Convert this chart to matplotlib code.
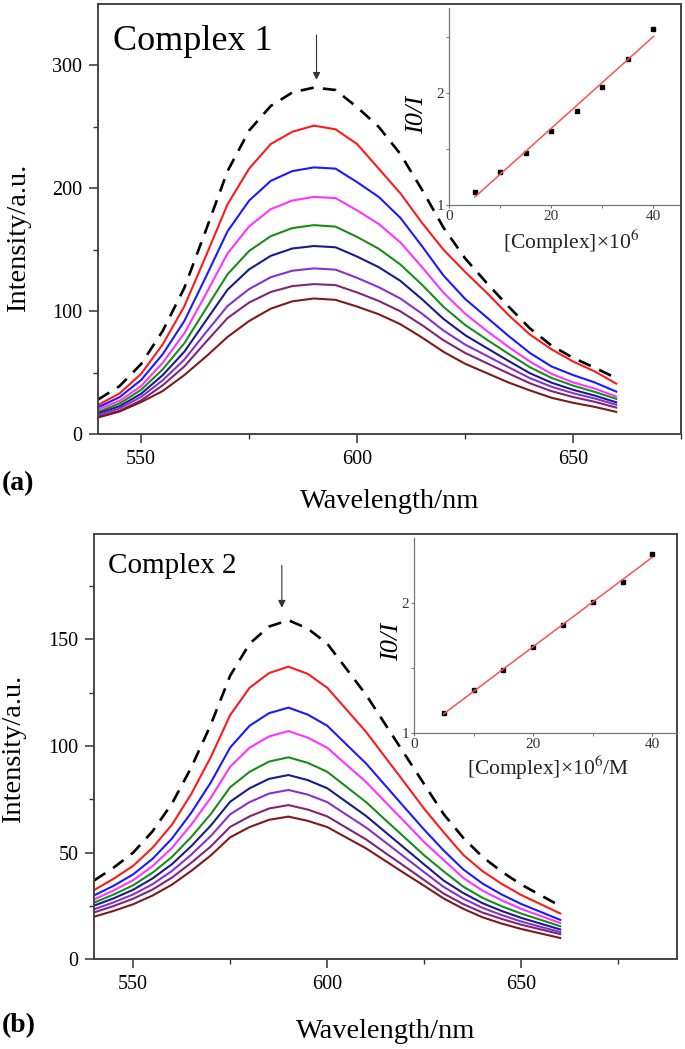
import numpy as np
import matplotlib
matplotlib.use("Agg")
import matplotlib.pyplot as plt

plt.rcParams['font.family'] = ['Liberation Serif', 'DejaVu Serif']
plt.rcParams['mathtext.fontset'] = 'stix'

# ---------------- data ----------------
wavelength = [540, 545, 550, 555, 560, 565, 570, 575, 580, 585, 590, 595, 600,
              605, 610, 615, 620, 625, 630, 635, 640, 645, 650, 655, 660]

# Panel (a): complex 1
a_free    = [28, 39, 57, 84, 119, 166, 214, 247, 267, 278, 282, 280, 266, 250, 228, 199, 168, 143, 123, 104, 86, 72, 62, 54, 45.5]
a_red     = [23.6, 33, 49, 73, 104, 145, 187, 216, 236, 246, 251, 248, 236, 216, 196, 172, 150, 132, 115, 97, 81, 69, 59, 51, 41]
a_blue    = [21.7, 30, 44, 65, 92, 128, 165, 190, 206, 214, 217, 216, 205, 193, 176, 153, 129, 110, 95, 80, 66, 55, 48, 42, 34.5]
a_magenta = [20, 27, 39, 58, 82, 114, 147, 169, 183, 190, 193, 192, 182, 171, 156, 136, 115, 98, 84, 71, 59, 49, 42, 37, 30.5]
a_green   = [18, 24.8, 36, 52.7, 73.9, 102, 130, 149, 161, 167.6, 170, 168.8, 160.4, 150.8, 138, 121.6, 103.5, 88.8, 76.9, 65.4, 54.4, 45.7, 39.4, 34.3, 28.6]
a_navy    = [16.8, 22.6, 32.8, 48, 67, 92.3, 117.5, 134, 145, 151, 153, 152, 144.4, 135.8, 124.7, 109.8, 93.7, 80.5, 70, 59.6, 49.5, 41.8, 36, 31.3, 25.8]
a_purple  = [15.4, 20.9, 30.2, 43.8, 60.6, 82.7, 104.2, 118, 127.6, 132.9, 134.8, 133.8, 127.1, 119.5, 110.3, 98, 84.2, 72.8, 63.7, 54.5, 45.5, 38.5, 33.2, 28.9, 23.8]
a_violet  = [14, 18.9, 27.4, 39.7, 55, 74.9, 94.4, 107, 115.6, 120.4, 122, 121.2, 115.2, 108.3, 99.9, 88.7, 76.3, 66, 57.7, 49.4, 41.3, 34.9, 30.1, 26.2, 21.5]
a_maroon  = [13.4, 18.3, 26, 35, 48, 63, 79, 92, 102, 108, 110.3, 109.2, 103.7, 97.5, 89.4, 78.6, 66.9, 57.2, 49.6, 42, 35.5, 29.5, 25.4, 22.1, 18]

# Panel (b): complex 2
b_free    = [37, 43, 50, 60, 73, 90, 110, 133, 148, 156, 159, 155, 148, 136, 124, 110, 96, 82, 68, 57, 48, 41, 35, 30, 25]
b_red     = [32.5, 37.8, 43.8, 52.3, 63.1, 77.6, 94.8, 114.5, 127.3, 134.2, 137.2, 133.8, 127.3, 117, 106.6, 94.6, 82.6, 70.5, 59.5, 49, 41.3, 35.3, 30.1, 25.8, 21.5]
b_blue    = [30, 34.5, 39.8, 47.1, 56.6, 68.8, 82.9, 99.3, 109.5, 115.4, 118, 114.7, 109.5, 100.6, 91.8, 81.4, 71, 60.7, 51, 42.2, 35.5, 30.3, 25.9, 22.2, 18.5]
b_magenta = [28.1, 32.3, 37.1, 43.7, 52.2, 63.2, 75.7, 90.3, 99.2, 104.5, 107, 103.9, 99.2, 91.1, 83.1, 73.7, 64.3, 54.9, 46.5, 38.2, 32.2, 27.6, 23.6, 20.3, 17]
b_green   = [26.6, 30.4, 34.7, 40.6, 48, 57.4, 68.1, 80.7, 87.9, 92.7, 94.7, 92.1, 87.9, 80.8, 73.7, 65.3, 57, 48.7, 41.2, 34.1, 28.8, 24.8, 21.4, 18.5, 15.5]
b_navy    = [25.2, 28.6, 32.6, 37.9, 44.6, 53.1, 62.7, 73.9, 80.2, 84.6, 86.4, 84, 80.2, 73.7, 67.2, 59.6, 52, 44.4, 36.9, 31.1, 26.3, 22.6, 19.4, 16.7, 14]
b_purple  = [23.5, 26.7, 30.4, 35.2, 41.4, 49.1, 57.8, 68, 73.7, 77.7, 79.4, 77.2, 73.7, 67.7, 61.8, 54.8, 47.8, 40.8, 33.9, 28.5, 24.1, 20.7, 17.7, 15.2, 12.8]
b_violet  = [22, 25, 28.4, 32.7, 38.3, 45.3, 52.9, 62.1, 67, 70.7, 72.3, 70.2, 67, 61.6, 56.2, 49.8, 43.5, 37.1, 30.8, 25.9, 21.9, 18.9, 16.2, 14, 11.8]
b_maroon  = [20, 22.7, 25.8, 29.9, 35, 41.5, 48.7, 57.2, 62, 65.4, 66.9, 64.9, 62, 57, 52, 46.1, 40.2, 34.4, 28.5, 23.7, 19.7, 16.7, 14.2, 12.1, 10]

# Insets: Stern-Volmer plots
conc = [5, 10, 15, 20, 25, 30, 35, 40]
ratio_a = [1.113, 1.297, 1.46, 1.659, 1.84, 2.048, 2.303, 2.567]
ratio_b = [1.154, 1.333, 1.485, 1.662, 1.833, 2.005, 2.164, 2.374]

colors = ['#ff1a1a', '#1a1aff', '#ff33ff', '#1a8c1a', '#1a1a8c', '#8533cc', '#80267a', '#801a1a']

W, H = 685, 1049
fig = plt.figure(figsize=(W / 100, H / 100), dpi=100)


def frac_box(l, t, r, b):
    return [l / W, 1 - b / H, (r - l) / W, (b - t) / H]


def fx(x):
    return x / W


def fy(y):
    return 1 - y / H


def main_panel(box, free, curves, xlim, ylim, ymajor, yminor, arrow):
    ax = fig.add_axes(box)
    ax.plot(wavelength, free, color='black', lw=1.9, ls=(0, (5, 3.5)))
    for c, col in zip(curves, colors):
        ax.plot(wavelength, c, color=col, lw=1.5)
    ax.set_xlim(*xlim)
    ax.set_ylim(*ylim)
    ax.set_xticks([550, 600, 650])
    ax.set_xticks([575, 625, 675], minor=True)
    ax.set_yticks(ymajor)
    ax.set_yticks(yminor, minor=True)
    ax.tick_params(which='major', direction='out', length=6.5, width=1.1, labelsize=14.5, pad=5, color='#333333')
    ax.tick_params(which='minor', direction='out', length=3.5, width=1.0, color='#333333')
    for s in ax.spines.values():
        s.set_linewidth(1.4)
        s.set_color('#444444')
    ax.annotate('', xy=(arrow[0], arrow[2]), xytext=(arrow[0], arrow[1]),
                arrowprops=dict(arrowstyle='-|>', color='#333333', lw=0.8, mutation_scale=11))
    return ax


def inset(box, x, y, xlim, ylim, yminor):
    ax = fig.add_axes(box)
    ax.patch.set_alpha(0)
    ax.plot(x, y, 's', color='black', ms=3.5)
    k, b0 = np.polyfit(x, y, 1)
    xf = np.array([x[0], x[-1]])
    ax.plot(xf, k * xf + b0, color='#ff5050', lw=1.1)
    ax.set_xlim(*xlim)
    ax.set_ylim(*ylim)
    ax.set_xticks([0, 20, 40])
    ax.set_xticks([10, 30], minor=True)
    ax.set_yticks([1, 2])
    ax.set_yticks(yminor, minor=True)
    for s in ['top', 'right']:
        ax.spines[s].set_visible(False)
    for s in ['left', 'bottom']:
        ax.spines[s].set_color('#777777')
        ax.spines[s].set_linewidth(0.9)
    ax.tick_params(which='major', direction='out', length=2.5, width=0.8, labelsize=11,
                   pad=1, color='#777777', labelcolor='#333333')
    ax.tick_params(which='minor', direction='out', length=2, width=0.7, color='#777777')
    return ax


# ---- panel (a)
axa = main_panel(frac_box(98, 4, 681, 434), a_free,
                 [a_red, a_blue, a_magenta, a_green, a_navy, a_purple, a_violet, a_maroon],
                 (540, 675), (0, 350), [0, 100, 200, 300], [50, 150, 250], (590.6, 327, 286))
inset(frac_box(449.3, 8.5, 679, 205), conc, ratio_a, (0, 45), (1, 2.75), [1.5, 2.5])

# ---- panel (b)
axb = main_panel(frac_box(94.3, 534, 676.7, 959.3), b_free,
                 [b_red, b_blue, b_magenta, b_green, b_navy, b_purple, b_violet, b_maroon],
                 (540, 690), (0, 199.4), [0, 50, 100, 150], [25, 75, 125, 175], (588.3, 186, 163.5))
inset(frac_box(414, 538, 676.2, 733.3), conc, ratio_b, (0, 44), (1, 2.5), [1.5])

# ---- texts
fig.text(fx(113), fy(50), 'Complex 1', fontsize=26, va='baseline', ha='left')
fig.text(fx(108), fy(573), 'Complex 2', fontsize=21, va='baseline', ha='left')
fig.text(fx(2), fy(490), '(a)', fontsize=20, fontweight='bold', va='baseline', ha='left')
fig.text(fx(2), fy(1032), '(b)', fontsize=20, fontweight='bold', va='baseline', ha='left')
fig.text(fx(390), fy(508), 'Wavelength/nm', fontsize=20.5, va='baseline', ha='center')
fig.text(fx(385.5), fy(1038), 'Wavelength/nm', fontsize=20.5, va='baseline', ha='center')
fig.text(fx(19), fy(238), 'Intensity/a.u.', fontsize=20.5, rotation=90, va='center', ha='center')
fig.text(fx(14), fy(749), 'Intensity/a.u.', fontsize=20.5, rotation=90, va='center', ha='center')
fig.text(fx(417), fy(115), 'I0/I', fontsize=19, style='italic', rotation=90, va='center', ha='center')
fig.text(fx(392), fy(642), 'I0/I', fontsize=19, style='italic', rotation=90, va='center', ha='center')
fig.text(fx(571), fy(242), '[Complex]×10$^{6}$', fontsize=15.5, va='center', ha='center', color='#222222')
fig.text(fx(548), fy(768), '[Complex]×10$^{6}$/M', fontsize=15.5, va='center', ha='center', color='#222222')

fig.savefig('out.png', dpi=100)
